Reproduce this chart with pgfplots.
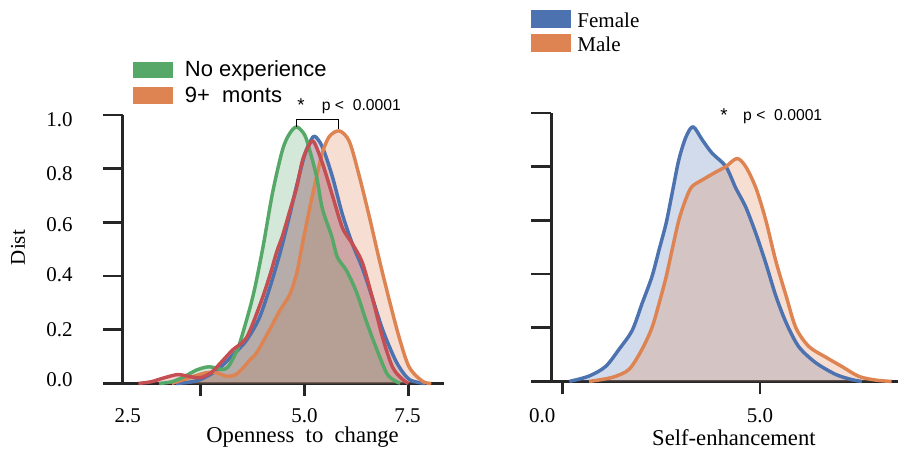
\documentclass[border=0pt]{standalone}
\usepackage{fontspec}
\setmainfont{Liberation Serif}
\setsansfont{Liberation Sans}
\usepackage{pgfplots}
\usepackage{pgfplotstable}
\pgfplotsset{compat=1.18}

\definecolor{sbblue}{HTML}{4C72B0}
\definecolor{sborange}{HTML}{DD8452}
\definecolor{sbgreen}{HTML}{55A868}
\definecolor{sbred}{HTML}{C44E52}
\definecolor{spine}{HTML}{262626}

% Kernel density curves, Openness to change
\pgfplotstableread{
x y
1.9 0
2.2 0.004
2.5 0.015
2.9 0.05
3.3 0.11
3.6 0.16
3.9 0.24
4.15 0.35
4.4 0.48
4.6 0.6
4.8 0.73
5.0 0.85
5.15 0.905
5.25 0.92
5.43 0.88
5.67 0.77
5.91 0.63
6.15 0.52
6.39 0.43
6.63 0.32
6.88 0.2
7.21 0.08
7.52 0.015
7.9 0
}\openBlue

\pgfplotstableread{
x y
1.8 0
2.1 0.015
2.4 0.03
2.64 0.04
2.88 0.04
3.12 0.027
3.3 0.03
3.44 0.045
3.7 0.09
3.85 0.115
4.16 0.2
4.40 0.27
4.64 0.33
4.81 0.41
4.95 0.52
5.12 0.65
5.29 0.77
5.43 0.86
5.6 0.92
5.84 0.94
6.08 0.9
6.32 0.77
6.56 0.62
6.8 0.46
7.04 0.31
7.28 0.17
7.52 0.06
7.84 0.008
8.05 0
}\openOrange

\pgfplotstableread{
x y
1.5 0
1.8 0.006
2.1 0.025
2.4 0.05
2.7 0.062
3.0 0.052
3.15 0.06
3.3 0.1
3.44 0.15
3.75 0.32
3.99 0.50
4.23 0.71
4.47 0.87
4.64 0.93
4.81 0.955
5.0 0.926
5.12 0.87
5.29 0.77
5.43 0.65
5.65 0.55
5.79 0.47
6.01 0.42
6.25 0.34
6.49 0.23
6.73 0.13
6.97 0.04
7.12 0.015
7.3 0
}\openGreen

\pgfplotstableread{
x y
1.0 0
1.3 0.006
1.6 0.02
1.95 0.033
2.25 0.025
2.5 0.022
2.75 0.04
3.0 0.08
3.27 0.125
3.6 0.17
3.92 0.29
4.16 0.40
4.33 0.49
4.47 0.55
4.64 0.64
4.81 0.73
4.95 0.83
5.1 0.885
5.22 0.90
5.43 0.82
5.67 0.70
5.91 0.58
6.15 0.52
6.39 0.45
6.63 0.32
6.88 0.17
7.12 0.06
7.36 0.015
7.5 0
}\openRed

% Kernel density curves, Self-enhancement
\pgfplotstableread{
x y
0.18 0
0.68 0.02
1.1 0.056
1.44 0.12
1.77 0.19
2.02 0.29
2.27 0.39
2.45 0.49
2.63 0.59
2.78 0.70
2.95 0.825
3.13 0.91
3.31 0.948
3.54 0.90
3.79 0.85
4.14 0.80
4.39 0.72
4.64 0.65
4.9 0.55
5.15 0.44
5.4 0.32
5.66 0.22
5.98 0.13
6.41 0.07
6.92 0.026
7.32 0.007
7.58 0
}\selfFemale

\pgfplotstableread{
x y
0.68 0
1.26 0.015
1.69 0.045
2.02 0.12
2.27 0.2
2.45 0.29
2.63 0.39
2.78 0.49
2.95 0.60
3.13 0.68
3.28 0.725
3.54 0.75
3.89 0.78
4.14 0.80
4.42 0.83
4.64 0.80
4.9 0.72
5.15 0.60
5.4 0.45
5.66 0.32
5.91 0.2
6.24 0.13
6.67 0.09
7.07 0.056
7.5 0.019
7.93 0.005
8.33 0
}\selfMale

\pgfplotsset{
  spineaxis/.style={
    scale only axis, clip=false,
    axis lines=left,
    axis line style={-, line width=2pt, spine},
    tick align=outside,
    every tick/.style={line width=2pt, spine},
    xtick style={/pgfplots/major tick length=9.75pt},
    ytick style={/pgfplots/major tick length=15pt},
    major tick length=15pt,
    ymin=0, ymax=1,
    ytick={0,0.2,0.4,0.6,0.8,1},
    xticklabels={}, yticklabels={},
  },
  densfill/.style={draw=none, fill=#1, fill opacity=0.26, smooth, forget plot},
  densline/.style={draw=#1, line width=2.6pt, smooth, line join=round, forget plot},
}

\newcommand\ticksize{\fontsize{15.75}{18}\selectfont}

\begin{document}
\begin{tikzpicture}

% Openness to change
\begin{axis}[spineaxis,
  at={(92.25pt,-288pt)}, anchor=south west,
  width=241.5pt, height=201.75pt,
  xmin=0.625, xmax=8.365,
  xtick={2.5,5,7.5},
]
\addplot[densfill=sbblue] table {\openBlue} \closedcycle;
\addplot[densfill=sborange] table {\openOrange} \closedcycle;
\addplot[densfill=sbgreen] table {\openGreen} \closedcycle;
\addplot[densfill=sbred] table {\openRed} \closedcycle;
\addplot[densline=sbblue] table {\openBlue};
\addplot[densline=sborange] table {\openOrange};
\addplot[densline=sbgreen] table {\openGreen};
\addplot[densline=sbred] table {\openRed};
\end{axis}

% Self-enhancement
\begin{axis}[spineaxis,
  at={(414pt,-286.5pt)}, anchor=south west,
  width=260.25pt, height=201.75pt,
  xmin=-0.278, xmax=8.485,
  xtick={0,5},
]
\addplot[densfill=sbblue] table {\selfFemale} \closedcycle;
\addplot[densfill=sborange] table {\selfMale} \closedcycle;
\addplot[densline=sbblue] table {\selfFemale};
\addplot[densline=sborange] table {\selfMale};
\end{axis}

\begin{scope}[x=0.75pt,y=-0.75pt]
\path[use as bounding box] (0,0) rectangle (899,450);

% tick labels
\foreach \v/\py in {0.0/380, 0.2/330, 0.4/275, 0.6/225, 0.8/174, 1.0/120}
  \node[anchor=east, inner sep=0, font=\ticksize] at (73,\py) {\v};
\foreach \v/\px in {2.5/128, 5.0/305, 7.5/408}
  \node[inner sep=0, font=\ticksize] at (\px,416) {\v};
\foreach \v/\px in {0.0/543, 5.0/761}
  \node[inner sep=0, font=\ticksize] at (\px,416) {\v};

% axis titles
\node[rotate=90, font=\ticksize] at (18,248) {Dist};
\node[font=\fontsize{17}{20}\selectfont] at (303,438) {Openness\ \ to\ \ change};
\node[font=\fontsize{17}{20}\selectfont] at (735,438) {Self-enhancement};

% legends
\fill[sbgreen] (133,62) rectangle (173,78);
\fill[sborange] (133,87) rectangle (173,104);
\node[anchor=base west, inner sep=0, font=\sffamily\fontsize{16.5}{19}\selectfont] at (185,76.7) {No experience};
\node[anchor=base west, inner sep=0, font=\sffamily\fontsize{16.5}{19}\selectfont] at (185,103) {9+\ \ monts};

\fill[sbblue] (532,10) rectangle (572,28);
\fill[sborange] (532,34) rectangle (572,52);
\node[anchor=base west, inner sep=0, font=\fontsize{15.8}{19}\selectfont] at (578,28) {Female};
\node[anchor=base west, inner sep=0, font=\fontsize{15.8}{19}\selectfont] at (578,52) {Male};

% significance annotations
\draw[line width=0.9pt, black] (296.7,126.7) -- (296.7,119.3) -- (339.3,119.3) -- (339.3,129);
\node[anchor=base, inner sep=0, font=\sffamily\fontsize{14}{16}\selectfont] at (301.5,112) {*};
\node[anchor=base west, inner sep=0, font=\sffamily\fontsize{11.8}{14}\selectfont] at (322,110.5) {p <\ \ 0.0001};
\node[anchor=base, inner sep=0, font=\sffamily\fontsize{14}{16}\selectfont] at (725,122) {*};
\node[anchor=base west, inner sep=0, font=\sffamily\fontsize{11.8}{14}\selectfont] at (744,120.5) {p <\ \ 0.0001};
\end{scope}

\end{tikzpicture}
\end{document}
